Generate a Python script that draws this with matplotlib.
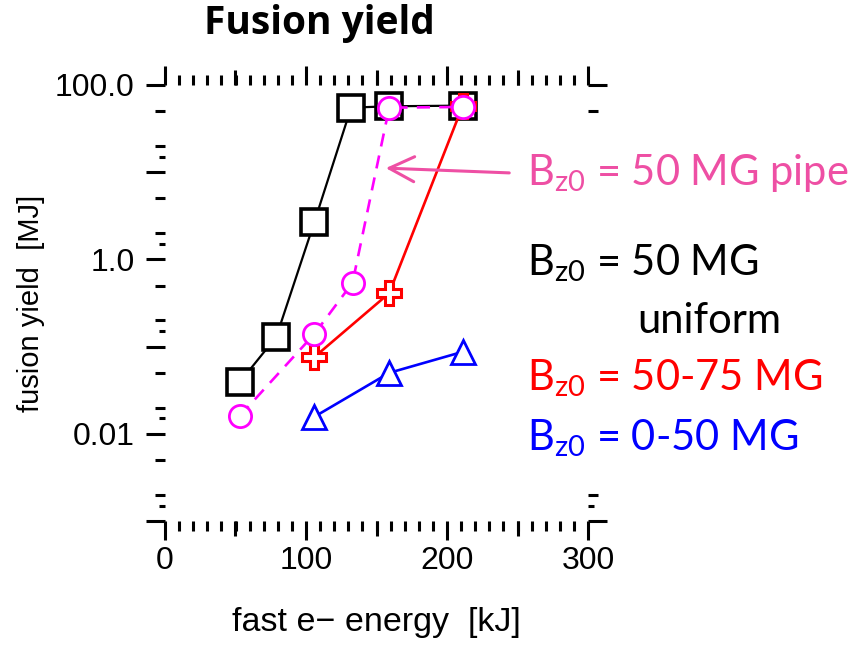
import numpy as np
import matplotlib
matplotlib.use("Agg")
import matplotlib.pyplot as plt
from matplotlib.patches import Rectangle, FancyArrowPatch
from matplotlib.ticker import FixedLocator, FixedFormatter, LogLocator, NullFormatter, MultipleLocator

# data: fast e- energy [kJ] vs fusion yield [MJ]
energy_uniform = [53, 79, 106, 132, 159, 211]
yield_uniform = [0.039, 0.13, 2.7, 55, 57, 58]

energy_ramp = [106, 159, 211]
yield_ramp = [0.076, 0.41, 57]

energy_pipe = [53, 106, 133, 159, 211]
yield_pipe = [0.016, 0.14, 0.54, 55, 56]

energy_low = [106, 159, 211]
yield_low = [0.0157, 0.050, 0.087]

y_ticks = [1e-3, 1e-2, 1e-1, 1, 10, 100]
y_tick_labels = ["", "0.01", "", "1.0", "", "100.0"]
x_ticks = [0, 100, 200, 300]

PINK = "#EE4FA4"
W, H = 857, 648


def fx(x):
    return x / W


def fy(y):
    return 1 - y / H


plt.rcParams["font.family"] = ["Liberation Sans", "DejaVu Sans"]
plt.rcParams["mathtext.fontset"] = "custom"
plt.rcParams["mathtext.rm"] = "Lato"

fig = plt.figure(figsize=(W / 100, H / 100), dpi=100)
ax = fig.add_axes([fx(165), fy(521), fx(588) - fx(165), fy(85) - fy(521)])

ax.plot(energy_uniform, yield_uniform, color="black", lw=1.6, marker="s", ms=18.5,
        mew=2.6, mfc="white", mec="black", zorder=3)
ax.plot(energy_ramp, yield_ramp, color="red", lw=1.9, marker="P", ms=17,
        mew=2.2, mfc="white", mec="red", zorder=4)
ax.plot(energy_pipe, yield_pipe, color="#FF00FF", lw=1.9, ls=(0, (5, 3.5)), marker="o",
        ms=16, mew=2.0, mfc="white", mec="#FF00FF", zorder=5)
ax.plot(energy_low, yield_low, color="blue", lw=1.9, marker="^", ms=17,
        mew=2.0, mfc="white", mec="blue", zorder=4)

ax.set_xlim(0, 300)
ax.set_yscale("log")
ax.set_ylim(1e-3, 100)

for s in ax.spines.values():
    s.set_visible(False)

ax.xaxis.set_major_locator(FixedLocator(x_ticks))
ax.xaxis.set_minor_locator(MultipleLocator(10))
ax.yaxis.set_major_locator(FixedLocator(y_ticks))
ax.yaxis.set_major_formatter(FixedFormatter(y_tick_labels))
ax.yaxis.set_minor_locator(LogLocator(base=10, subs=(2, 5)))
ax.yaxis.set_minor_formatter(NullFormatter())

ax.tick_params(which="both", direction="out", top=True, right=True, width=2.2,
               labelsize=23, color="black")
ax.tick_params(which="major", length=14)
ax.tick_params(which="minor", length=7)
ax.tick_params(axis="x", which="major", pad=4)
ax.tick_params(axis="y", which="major", pad=8)

# medium ticks at 50, 150, 250 and small ones at 1.5 x decade
for side in ("bottom", "top"):
    sec = ax.secondary_xaxis(side)
    sec.spines[side].set_visible(False)
    sec.set_xticks([50, 150, 250])
    sec.tick_params(direction="out", length=11, width=2.2, labelbottom=False,
                    labeltop=False)
for side in ("left", "right"):
    sec = ax.secondary_yaxis(side)
    sec.spines[side].set_visible(False)
    sec.set_yticks([1.5 * t for t in y_ticks[:-1]])
    sec.yaxis.set_minor_locator(FixedLocator([]))
    sec.tick_params(direction="out", length=4, width=2.2, labelleft=False,
                    labelright=False)

ax.set_xlabel("fast e\u2212 energy  [kJ]", fontsize=24.5, labelpad=22)
ax.set_ylabel("fusion yield  [MJ]", fontsize=21, labelpad=7)

fig.text(fx(319), fy(34), "Fusion yield", family="Open Sans", fontweight="bold",
         fontsize=28, ha="center", va="baseline")

# white box behind the labels
fig.patches.append(Rectangle((fx(516), fy(468)), fx(W) - fx(516), fy(138) - fy(468),
                             transform=fig.transFigure, facecolor="white",
                             edgecolor="none", zorder=1))

lab_kw = dict(family="Lato", fontsize=30, ha="left", va="baseline", zorder=3)
fig.text(fx(527), fy(185), r"B$_{\mathregular{z0}}$ = 50 MG pipe", color=PINK, **lab_kw)
fig.text(fx(527), fy(275), r"B$_{\mathregular{z0}}$ = 50 MG", color="black", **lab_kw)
fig.text(fx(637), fy(333), "uniform", color="black", **lab_kw)
fig.text(fx(527), fy(390), r"B$_{\mathregular{z0}}$ = 50-75 MG", color="red", **lab_kw)
fig.text(fx(527), fy(450), r"B$_{\mathregular{z0}}$ = 0-50 MG", color="blue", **lab_kw)

fig.add_artist(FancyArrowPatch(
    (fx(512), fy(173)), (fx(383), fy(168)), transform=fig.transFigure,
    arrowstyle="->,head_length=0.9,head_width=0.45", mutation_scale=20,
    color=PINK, lw=2.2, zorder=4))

fig.savefig("out.png", dpi=100)
